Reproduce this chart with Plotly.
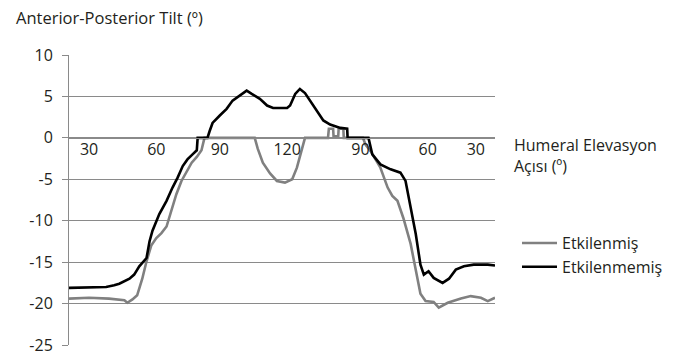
import plotly.graph_objects as go

# Cycle position (% of motion) and tilt values
gray_x = [0, 4.7, 9.4, 13.0, 13.7, 14.9, 16.0, 17.2, 18.2, 19.3, 20.5, 21.7, 22.9, 24.1, 25.2,
          26.4, 27.6, 28.8, 30.0, 31.1, 31.8, 43.6, 44.3, 45.5, 47.2, 48.8, 50.7, 52.4, 53.5,
          54.7, 55.4, 60.8, 61.0, 62.0, 62.1, 63.2, 63.3, 64.4, 64.5, 69.0, 69.6, 70.8, 71.9,
          73.1, 74.8, 75.9, 77.1, 78.5, 80.2, 81.4, 82.5, 83.7, 85.6, 86.8, 88.9, 92.0, 94.3,
          96.7, 98.3, 100]
gray_y = [-19.4, -19.3, -19.4, -19.6, -19.9, -19.5, -19.0, -17.0, -14.9, -13.0, -12.1, -11.5,
          -10.7, -8.8, -6.8, -5.2, -4.0, -3.0, -2.3, -1.5, 0, 0, -1.3, -3.0, -4.3, -5.2, -5.4,
          -5.0, -3.6, -1.3, 0, 0, 1.1, 1.1, 0.2, 0.2, 1.1, 1.1, 0, 0, -0.8, -1.6, -2.6, -3.6,
          -6.0, -7.0, -7.6, -9.7, -12.8, -16.1, -18.8, -19.7, -19.8, -20.5, -19.9, -19.4,
          -19.1, -19.3, -19.7, -19.3]

black_x = [0, 7.1, 8.7, 10.6, 11.8, 14.2, 15.3, 16.5, 18.2, 18.9, 19.6, 21.2, 22.9, 24.3, 25.5,
           26.7, 27.8, 29.0, 30.0, 30.2, 32.5, 33.0, 33.7, 35.4, 37.0, 38.4, 40.6, 41.7, 42.9,
           44.8, 46.5, 47.9, 51.2, 51.9, 53.1, 54.2, 55.4, 57.3, 59.7, 61.3, 63.7, 65.3, 65.4,
           70.3, 71.2, 73.1, 75.5, 77.8, 79.0, 80.2, 81.4, 82.5, 83.3, 84.4, 85.6, 87.7, 89.2,
           90.8, 92.7, 95.0, 98.3, 100]
black_y = [-18.1, -18.0, -18.0, -17.8, -17.6, -17.0, -16.5, -15.5, -14.5, -12.5, -11.2, -9.2,
           -7.6, -6.0, -4.8, -3.4, -2.6, -2.0, -1.5, 0, 0, 0.8, 1.8, 2.7, 3.5, 4.5, 5.3, 5.7,
           5.3, 4.7, 3.9, 3.6, 3.6, 3.9, 5.3, 5.9, 5.4, 3.9, 2.1, 1.6, 1.2, 1.1, 0, 0, -2.0,
           -3.2, -3.8, -4.2, -5.2, -8.4, -11.6, -15.3, -16.5, -16.1, -16.9, -17.5, -17.0,
           -15.9, -15.5, -15.3, -15.3, -15.4]

angle_labels = ["30", "60", "90", "120", "90", "60", "30"]
angle_positions = [4.7, 20.5, 35.4, 51.2, 68.4, 84.2, 95.5]

y_tick_values = [10, 5, 0, -5, -10, -15, -20, -25]
y_tick_labels = ["10", "5", "0", "-5", "-10", "-15", "-20", "-25"]

series_names = ["Etkilenmiş", "Etkilenmemiş"]
title_text = "Anterior-Posterior Tilt (º)"
xaxis_text = "Humeral Elevasyon<br>Açısı (º)"

FONT = "Open Sans"
TXT = "#231f20"
GRID = "#8a8a8a"
PW = 426  # plot width in px

fig = go.Figure()
fig.add_trace(go.Scatter(x=gray_x, y=gray_y, mode="lines", name=series_names[0],
                         line=dict(color="#808080", width=2.6)))
fig.add_trace(go.Scatter(x=black_x, y=black_y, mode="lines", name=series_names[1],
                         line=dict(color="#000000", width=2.6)))

fig.update_layout(
    width=682, height=357,
    margin=dict(l=69, r=187, t=55, b=12, autoexpand=False),
    paper_bgcolor="white", plot_bgcolor="white",
    font=dict(family=FONT, size=16, color=TXT),
    showlegend=True,
    legend=dict(x=1.0 + 22 / PW, y=0.41, xanchor="left", yanchor="top",
                font=dict(size=16, color=TXT), tracegroupgap=0, itemwidth=35,
                bgcolor="rgba(0,0,0,0)"),
    xaxis=dict(range=[0, 100], anchor="free", position=25 / 35, automargin=False,
               showline=True, linecolor=GRID, linewidth=1,
               showgrid=False, zeroline=False,
               tickmode="array", tickvals=angle_positions, ticktext=angle_labels,
               ticks="", ticklabelstandoff=-3, tickfont=dict(size=16, color=TXT)),
    yaxis=dict(range=[-25, 10], automargin=False, showline=True, linecolor=GRID, linewidth=1,
               showgrid=True, gridcolor=GRID, gridwidth=1, zeroline=False,
               tickmode="array", tickvals=y_tick_values, ticktext=y_tick_labels,
               ticks="outside", ticklen=6, tickcolor=GRID,
               ticklabelstandoff=6, tickfont=dict(size=16, color=TXT)),
)

fig.add_annotation(text=title_text, xref="paper", yref="paper", x=(14 - 69) / PW,
                   y=1, yshift=38, xanchor="left", yanchor="middle", showarrow=False,
                   font=dict(size=16.5, color=TXT))
fig.add_annotation(text=xaxis_text, xref="paper", yref="paper", x=1 + 17 / PW,
                   y=25 / 35, yshift=-18, xanchor="left", yanchor="middle", showarrow=False,
                   align="left", font=dict(size=16, color=TXT))

fig.write_html("out.html", config={"displayModeBar": False},
               post_script="document.body.style.margin='0px';")
